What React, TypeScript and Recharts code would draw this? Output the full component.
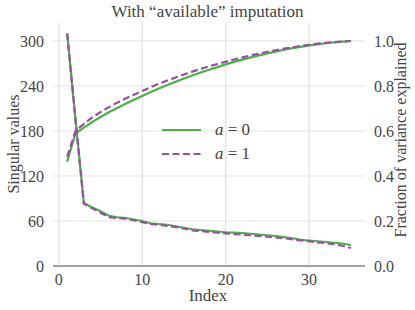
import React from 'react';
import { ComposedChart, Line, XAxis, YAxis, CartesianGrid } from 'recharts';

const indices = [1,2,3,4,5,6,7,8,9,10,11,12,13,14,15,16,17,18,19,20,21,22,23,24,25,26,27,28,29,30,31,32,33,34,35];
const singularA0 = [310,195,84,78,73,67,65,64,62,60,57,56,55,53,51,49,48,47,46,45,44.5,44,43,42,41,40,38.5,37,35,34,33,32,31,30,28];
const singularA1 = [310,195,83,77,71,65,64,63,61,58.5,56,55,53.5,52,50,47.5,46.5,45.5,44.5,43.5,42.5,42,41,40,39,38,37,35.5,34,33,31.5,30.5,29,27,24];
const fracA0 = [0.464,0.59,0.615,0.64,0.662,0.683,0.702,0.721,0.739,0.756,0.773,0.789,0.804,0.819,0.833,0.847,0.86,0.872,0.884,0.896,0.907,0.917,0.927,0.936,0.945,0.953,0.961,0.968,0.974,0.98,0.985,0.99,0.994,0.997,1.0];
const fracA1 = [0.486,0.6,0.632,0.66,0.684,0.706,0.726,0.744,0.761,0.778,0.794,0.81,0.824,0.838,0.851,0.864,0.876,0.887,0.898,0.908,0.918,0.927,0.936,0.944,0.952,0.959,0.966,0.972,0.978,0.983,0.988,0.992,0.995,0.998,1.0];
const xTicks = [0,10,20,30];
const leftTicks = [0,60,120,180,240,300];
const rightTicks = [0,0.2,0.4,0.6,0.8,1.0];

const data = indices.map((i, k) => ({ i, s0: singularA0[k], s1: singularA1[k], c0: fracA0[k], c1: fracA1[k] }));

const GREEN = '#4daf4a';
const PURPLE = '#984ea3';
const FONT = '"Liberation Serif", "DejaVu Serif", serif';
const TXT = '#444';

export default function App() {
  const tickStyle = { fill: TXT, fontSize: 16, fontFamily: FONT };
  return (
    <div style={{ position: 'absolute', left: 0, top: 0, width: 415, height: 310, background: '#fff', fontFamily: FONT }}>
      <ComposedChart width={415} height={310} data={data} margin={{ top: 22, right: 0, bottom: 0, left: 0 }}>
        <CartesianGrid yAxisId="left" stroke="#e3e3e3" strokeWidth={1.2} horizontalValues={leftTicks} verticalValues={xTicks} />
        <XAxis dataKey="i" type="number" domain={[-0.7, 36.7]} ticks={xTicks} height={44}
          tickLine={false} axisLine={{ stroke: '#555', strokeWidth: 1.2 }} tick={tickStyle} tickMargin={2} allowDataOverflow />
        <YAxis yAxisId="left" orientation="left" type="number" domain={[0, 325.3]} ticks={leftTicks} width={53}
          tickLine={false} axisLine={false} tick={tickStyle} tickMargin={3} allowDataOverflow />
        <YAxis yAxisId="right" orientation="right" type="number" domain={[0, 1.0844]} ticks={rightTicks} width={50}
          tickLine={false} axisLine={false} tick={tickStyle} tickMargin={3} allowDataOverflow
          tickFormatter={(v: number) => v.toFixed(1)} />
        <Line yAxisId="left" dataKey="s0" stroke={GREEN} strokeWidth={2.2} dot={false} isAnimationActive={false} />
        <Line yAxisId="right" dataKey="c0" stroke={GREEN} strokeWidth={2.2} dot={false} isAnimationActive={false} />
        <Line yAxisId="left" dataKey="s1" stroke={PURPLE} strokeWidth={2.2} strokeDasharray="7 3.5" dot={false} isAnimationActive={false} />
        <Line yAxisId="right" dataKey="c1" stroke={PURPLE} strokeWidth={2.2} strokeDasharray="7 3.5" dot={false} isAnimationActive={false} />
      </ComposedChart>
      <div style={{ position: 'absolute', left: 0, width: 415, top: 2, textAlign: 'center', fontSize: 17, color: TXT, lineHeight: '20px' }}>
        With “available” imputation
      </div>
      <div style={{ position: 'absolute', left: 0, width: 415, top: 286, fontSize: 17, color: TXT, lineHeight: '20px' }}>
        <div style={{ position: 'absolute', left: 208, transform: 'translateX(-50%)', whiteSpace: 'nowrap' }}>Index</div>
      </div>
      <div style={{ position: 'absolute', left: 14, top: 144, fontSize: 16, color: TXT, whiteSpace: 'nowrap', lineHeight: '20px', transform: 'translate(-50%, -50%) rotate(-90deg)' }}>
        Singular values
      </div>
      <div style={{ position: 'absolute', left: 401, top: 140, fontSize: 16, color: TXT, whiteSpace: 'nowrap', lineHeight: '20px', transform: 'translate(-50%, -50%) rotate(-90deg)' }}>
        Fraction of variance explained
      </div>
      <div style={{ position: 'absolute', left: 162, top: 120, fontSize: 17, color: TXT }}>
        <div style={{ display: 'flex', alignItems: 'center', height: 20 }}>
          <svg width={40} height={6}><line x1={0} y1={3} x2={39} y2={3} stroke={GREEN} strokeWidth={2.2} /></svg>
          <span style={{ marginLeft: 13, whiteSpace: 'pre' }}><i>a</i> = 0</span>
        </div>
        <div style={{ display: 'flex', alignItems: 'center', height: 20, marginTop: 4 }}>
          <svg width={40} height={6}><line x1={0} y1={3} x2={39} y2={3} stroke={PURPLE} strokeWidth={2.2} strokeDasharray="7 3.5" /></svg>
          <span style={{ marginLeft: 13, whiteSpace: 'pre' }}><i>a</i> = 1</span>
        </div>
      </div>
    </div>
  );
}
